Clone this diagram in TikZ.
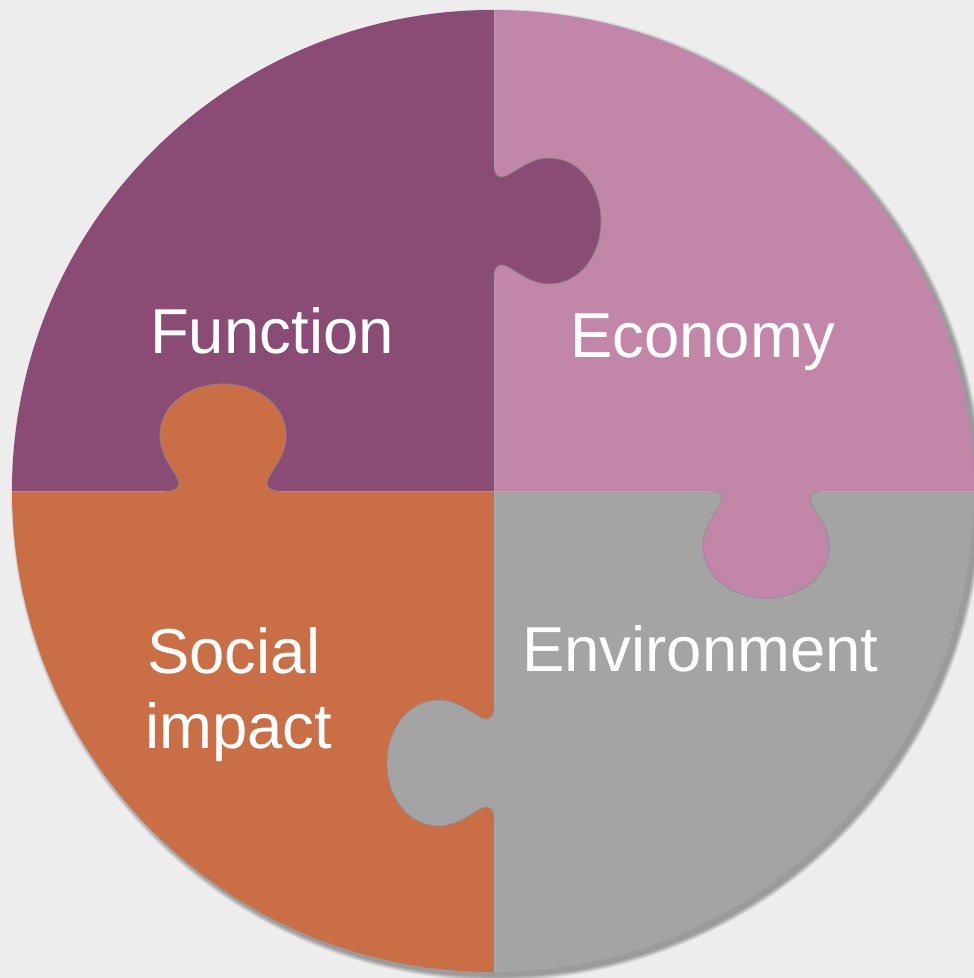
\documentclass[tikz,border=0pt]{standalone}
\usepackage{fontspec}
\setmainfont{Liberation Sans}
\definecolor{bgc}{HTML}{EDEDED}
\definecolor{purp}{HTML}{8A4C75}
\definecolor{pinkc}{HTML}{C287A8}
\definecolor{orng}{HTML}{C96E45}
\definecolor{greyc}{HTML}{A4A4A4}
\tikzset{
  lbl/.style={text=white, inner sep=0pt, anchor=base west, font=\fontsize{63.5}{75}\selectfont},
  tabedge/.style={draw=black!45, opacity=0.55, line width=1.3pt},
  pics/puzzletab/.style={code={
    \fill[#1] (-58,-3) -- (-58,0) .. controls (-49,0) and (-44,2) .. (-44,8)
      .. controls (-45,18) and (-63,33) .. (-63,55)
      .. controls (-63,86) and (-34,107) .. (0,107)
      .. controls (34,107) and (63,86) .. (63,55)
      .. controls (63,33) and (45,18) .. (44,8)
      .. controls (44,2) and (49,0) .. (58,0) -- (58,-3) -- cycle;
    \draw[tabedge] (-53,0.2) .. controls (-47,1) and (-44,3) .. (-44,8)
      .. controls (-45,18) and (-63,33) .. (-63,55)
      .. controls (-63,86) and (-34,107) .. (0,107)
      .. controls (34,107) and (63,86) .. (63,55)
      .. controls (63,33) and (45,18) .. (44,8)
      .. controls (44,3) and (47,1) .. (53,0.2);
  }}
}
\begin{document}
\begin{tikzpicture}[x=1pt,y=-1pt]
\useasboundingbox (0,0) rectangle (974,978);
\fill[bgc] (0,0) rectangle (974,978);
% soft shadow
\foreach \r in {1,2,...,10}{
  \fill[black, opacity=0.04] (497,495) circle[radius={481pt+\r pt*0.5}];
}
\begin{scope}
  \clip (493,491) circle[radius=481pt];
  \fill[purp] (0,0) rectangle (494,491);
  \fill[pinkc] (494,0) rectangle (974,491);
  \fill[orng] (0,491) rectangle (494,978);
  \fill[greyc] (494,491) rectangle (974,978);
  \draw[black!30, opacity=0.5, line width=0.8pt] (494.5,0) -- (494.5,978);
  \draw[black!30, opacity=0.5, line width=0.8pt] (0,491.5) -- (974,491.5);
  \begin{scope}[shift={(494,221)}, x={(0pt,-1pt)}, y={(1pt,0pt)}]
    \pic {puzzletab=purp};
  \end{scope}
  \begin{scope}[shift={(223,491)}, x={(1pt,0pt)}, y={(0pt,1pt)}]
    \pic {puzzletab=orng};
  \end{scope}
  \begin{scope}[shift={(766,491)}, x={(1pt,0pt)}, y={(0pt,-1pt)}]
    \pic {puzzletab=pinkc};
  \end{scope}
  \begin{scope}[shift={(494,763)}, x={(0pt,-1pt)}, y={(-1pt,0pt)}]
    \pic {puzzletab=greyc};
  \end{scope}
\end{scope}
\node[lbl] (func) at (150,353) {Function};
\node[lbl] (econ) at (570,357) {Economy};
\node[lbl] (envi) at (522,671) {Environment};
\node[lbl] (soc1) at (147,673) {Social};
\node[lbl] (soc2) at (145,748) {impact};
\end{tikzpicture}
\end{document}
